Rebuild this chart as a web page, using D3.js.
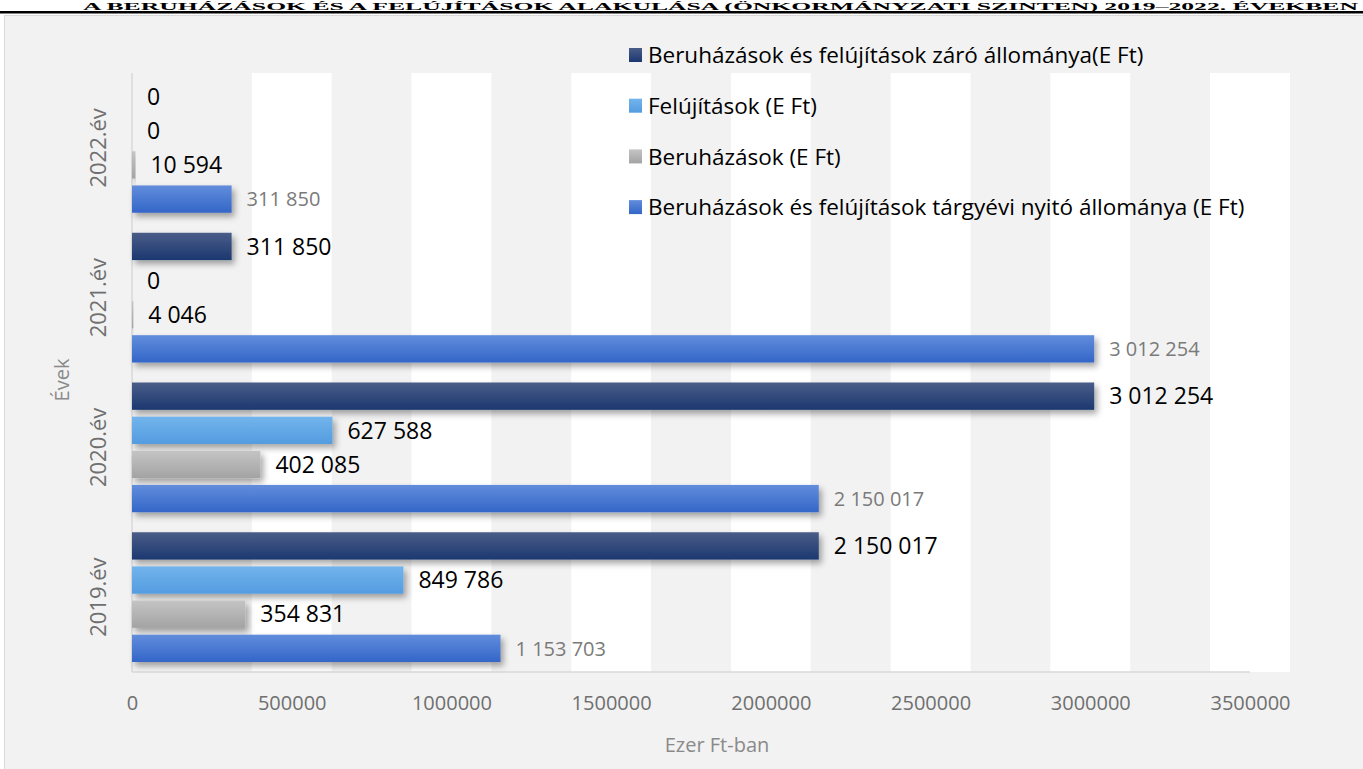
<!DOCTYPE html>
<meta charset="utf-8">
<title>Beruházások és felújítások</title>
<style>
body { margin: 0; background: #fff; }
svg { display: block; }
text { font-family: "Open Sans", sans-serif; }
</style>
<svg width="1363" height="769"></svg>
<script src="https://cdn.jsdelivr.net/npm/d3@7"></script>
<script>

var years = ["2019.év", "2020.év", "2021.év", "2022.év"];
var nyito = [1153703, 2150017, 3012254, 311850];
var beruhazas = [354831, 402085, 4046, 10594];
var felujitas = [849786, 627588, 0, 0];
var zaro = [2150017, 3012254, 311850, 0];

var seriesNames = [
  "Beruházások és felújítások záró állománya(E Ft)",
  "Felújítások (E Ft)",
  "Beruházások (E Ft)",
  "Beruházások és felújítások tárgyévi nyitó állománya (E Ft)"
];
var xTicks = [0, 500000, 1000000, 1500000, 2000000, 2500000, 3000000, 3500000];

// series top -> bottom inside each year
var series = [
  {key: "zaro", name: seriesNames[0], values: zaro, c1: "#4a5d88", c2: "#1c3870", label: "#000"},
  {key: "fel", name: seriesNames[1], values: felujitas, c1: "#72b4ec", c2: "#549ce0", label: "#000"},
  {key: "ber", name: seriesNames[2], values: beruhazas, c1: "#c4c4c4", c2: "#a3a3a3", label: "#000"},
  {key: "nyito", name: seriesNames[3], values: nyito, c1: "#628ddc", c2: "#3366c8", label: "#7a7a7a"}
];

var svg = d3.select("svg");
var fmt = function(v) { return d3.format(",")(v).replace(/,/g, " "); };

var defs = svg.append("defs");
series.forEach(function(s) {
  var g = defs.append("linearGradient").attr("id", "g-" + s.key)
    .attr("x1", 0).attr("y1", 0).attr("x2", 0).attr("y2", 1);
  g.append("stop").attr("offset", "0%").attr("stop-color", s.c1);
  g.append("stop").attr("offset", "100%").attr("stop-color", s.c2);
});
var f = defs.append("filter").attr("id", "shadow")
  .attr("x", "-5%").attr("y", "-20%").attr("width", "115%").attr("height", "160%");
f.append("feDropShadow").attr("dx", 3).attr("dy", 4).attr("stdDeviation", 3)
  .attr("flood-color", "#000").attr("flood-opacity", 0.35);

// title and rule
svg.append("text")
  .attr("x", 83).attr("y", 10)
  .attr("textLength", 1275).attr("lengthAdjust", "spacingAndGlyphs")
  .style("font-family", "'Liberation Serif', serif")
  .style("font-weight", "bold").style("font-size", "11px")
  .text("A BERUHÁZÁSOK ÉS A FELÚJÍTÁSOK ALAKULÁSA (ÖNKORMÁNYZATI SZINTEN) 2019–2022. ÉVEKBEN");
svg.append("rect").attr("x", 0).attr("y", 11).attr("width", 1363).attr("height", 2.5).attr("fill", "#000");

// chart area
svg.append("rect").attr("x", 4.5).attr("y", 15.5).attr("width", 1362).attr("height", 760)
  .attr("fill", "#f2f2f2").attr("stroke", "#d9d9d9");

var x = d3.scaleLinear().domain([0, 3500000]).range([132, 1250]);
var y = d3.scaleBand().domain(years.slice().reverse()).range([73, 672]);
var yInner = d3.scaleBand().domain(series.map(function(s) { return s.key; }))
  .range([10, y.bandwidth() - 10]).paddingInner(0.2);

// white bands centred on the gridlines
var half = (x(500000) - x(0)) / 4;
svg.append("g").selectAll("rect")
  .data(xTicks.slice(1))
  .join("rect")
    .attr("x", function(d) { return x(d) - half; })
    .attr("y", 73)
    .attr("width", half * 2)
    .attr("height", 672 - 73)
    .attr("fill", "#fff");

// axis lines
svg.append("line").attr("x1", 132).attr("x2", 132).attr("y1", 73).attr("y2", 672)
  .attr("stroke", "#d9d9d9").attr("stroke-width", 1.5);
svg.append("line").attr("x1", 132).attr("x2", 1250).attr("y1", 672).attr("y2", 672)
  .attr("stroke", "#d9d9d9").attr("stroke-width", 1.5);

// x axis
var xAxis = svg.append("g").attr("transform", "translate(0,672)")
  .call(d3.axisBottom(x).tickValues(xTicks).tickSize(0).tickPadding(24).tickFormat(d3.format("d")));
xAxis.select(".domain").remove();
xAxis.selectAll("text").attr("fill", "#6f6f6f").style("font-size", "20px")
  .style("font-family", "'Open Sans', sans-serif");

// y axis labels
svg.append("g").selectAll("text")
  .data(years)
  .join("text")
    .attr("transform", function(d) { return "translate(106," + (y(d) + y.bandwidth() / 2) + ") rotate(-90)"; })
    .attr("text-anchor", "middle")
    .attr("fill", "#6f6f6f").style("font-size", "22px")
    .text(function(d) { return d; });

svg.append("text")
  .attr("transform", "translate(69,380) rotate(-90)")
  .attr("text-anchor", "middle").attr("fill", "#8a8a8a").style("font-size", "20px")
  .text("Évek");
svg.append("text")
  .attr("x", 717).attr("y", 752).attr("text-anchor", "middle")
  .attr("fill", "#8a8a8a").style("font-size", "20px")
  .text("Ezer Ft-ban");

// bars
var groups = svg.append("g").selectAll("g")
  .data(years)
  .join("g")
    .attr("transform", function(d) { return "translate(0," + y(d) + ")"; });

series.forEach(function(s) {
  groups.filter(function(d, i) { return s.values[i] > 0; })
    .append("rect")
      .attr("x", x(0))
      .attr("y", yInner(s.key))
      .attr("width", function(d) { return x(s.values[years.indexOf(d)]) - x(0); })
      .attr("height", yInner.bandwidth())
      .attr("fill", "url(#g-" + s.key + ")")
      .attr("filter", "url(#shadow)");

  groups.append("text")
    .attr("x", function(d) { return x(s.values[years.indexOf(d)]) + 15; })
    .attr("y", yInner(s.key) + yInner.bandwidth() / 2)
    .attr("dy", "0.36em")
    .attr("fill", s.label)
    .style("font-size", s.key === "nyito" ? "20px" : "23px")
    .text(function(d) { return fmt(s.values[years.indexOf(d)]); });
});

// legend
var legend = svg.append("g").selectAll("g")
  .data(series)
  .join("g")
    .attr("transform", function(d, i) { return "translate(629," + (55 + i * 50.7) + ")"; });
legend.append("rect")
  .attr("x", 0).attr("y", -7).attr("width", 13).attr("height", 14)
  .attr("fill", function(d) { return "url(#g-" + d.key + ")"; });
legend.append("text")
  .attr("x", 19).attr("dy", "0.36em")
  .attr("fill", "#000").style("font-size", "22.5px")
  .text(function(d) { return d.name; });

</script>
